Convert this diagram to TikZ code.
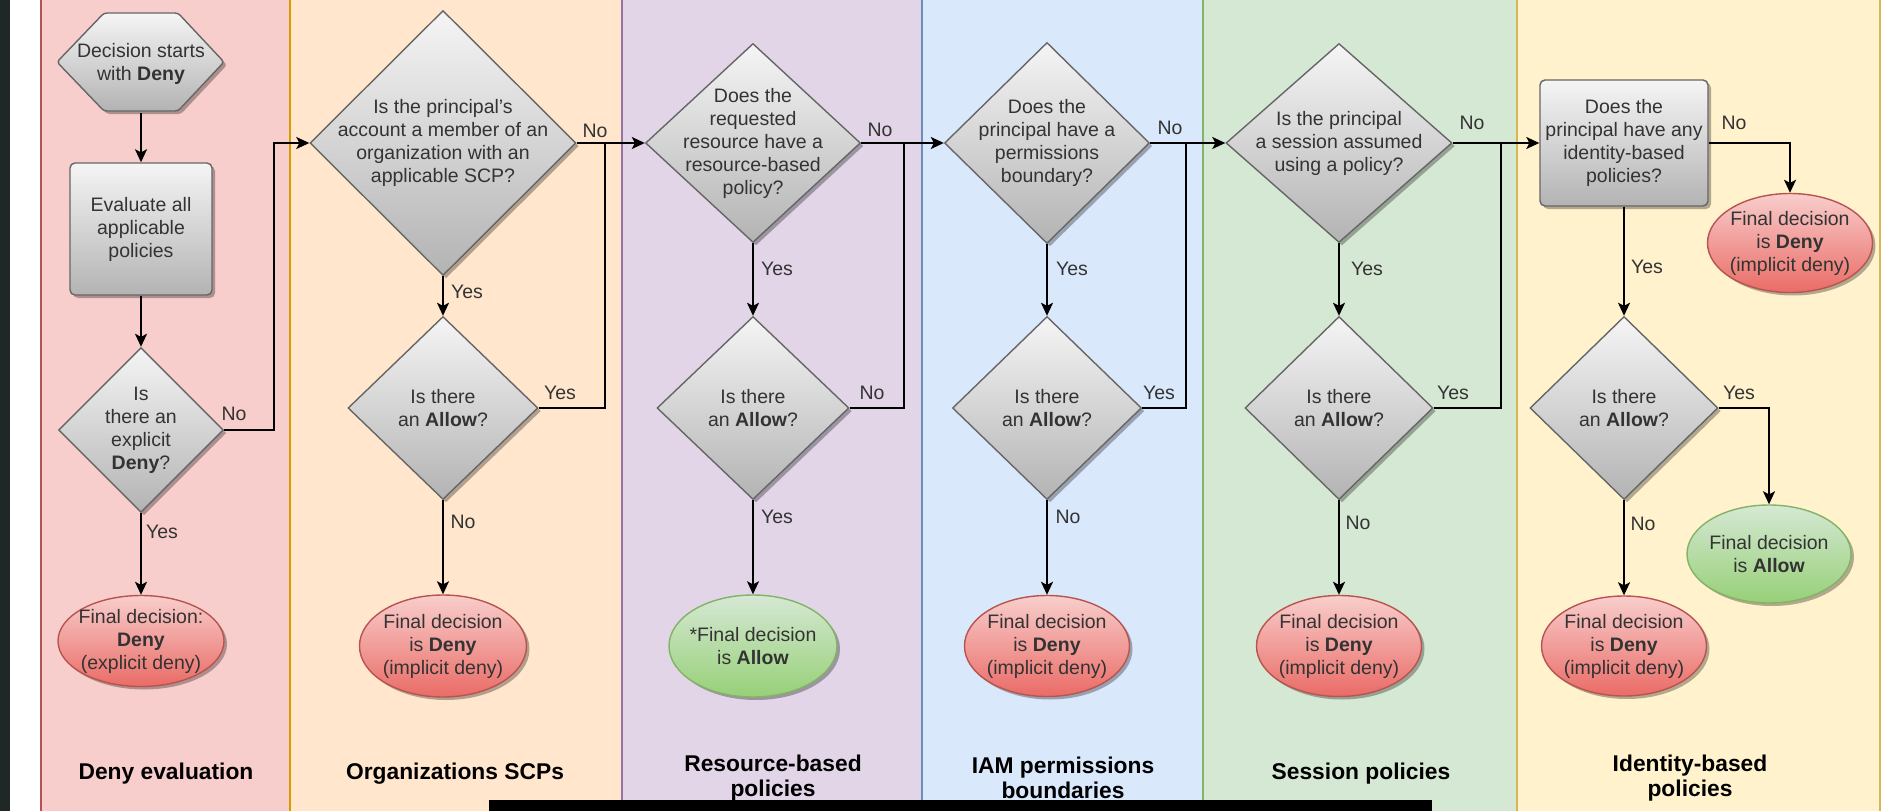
\documentclass[tikz,border=0pt]{standalone}
\usepackage{fontspec}
\setmainfont{Liberation Sans}
\usetikzlibrary{shapes.geometric,shadows,arrows.meta}

% palette
\definecolor{txt}{HTML}{333333}
\definecolor{edgestrip}{HTML}{1F2727}
\definecolor{laneRedF}{HTML}{F8CECC}\definecolor{laneRedD}{HTML}{B85450}
\definecolor{laneOrgF}{HTML}{FFE6CC}\definecolor{laneOrgD}{HTML}{D79B00}
\definecolor{lanePurF}{HTML}{E1D5E7}\definecolor{lanePurD}{HTML}{9673A6}
\definecolor{laneBluF}{HTML}{DAE8FC}\definecolor{laneBluD}{HTML}{6C8EBF}
\definecolor{laneGrnF}{HTML}{D5E8D4}\definecolor{laneGrnD}{HTML}{82B366}
\definecolor{laneYelF}{HTML}{FFF2CC}\definecolor{laneYelD}{HTML}{D6B656}
\definecolor{greyT}{HTML}{F5F5F5}\definecolor{greyB}{HTML}{B3B3B3}\definecolor{greyD}{HTML}{666666}
\definecolor{redT}{HTML}{F8CECC}\definecolor{redB}{HTML}{EA6B66}\definecolor{redD}{HTML}{B85450}
\definecolor{grnT}{HTML}{D5E8D4}\definecolor{grnB}{HTML}{97D077}\definecolor{grnD}{HTML}{82B366}

\newcommand{\dgmBody}{\fontsize{19.5}{23}\selectfont}
\newcommand{\dgmTitle}{\fontsize{22.8}{25}\selectfont\bfseries}

\tikzset{
  shapebase/.style={line width=1.4pt,
    drop shadow={shadow xshift=3pt, shadow yshift=-3pt, opacity=0.3, fill=black}},
  flowtext/.style={align=center, font=\dgmBody, text=txt},
  greyshape/.style={shapebase, draw=greyD, top color=greyT, bottom color=greyB},
  decision/.style={greyshape, diamond, inner sep=0pt},
  procbox/.style={greyshape, rectangle, rounded corners=5pt, inner sep=0pt, flowtext},
  redend/.style={shapebase, ellipse, draw=redD, top color=redT, bottom color=redB, inner sep=0pt},
  greenend/.style={shapebase, ellipse, draw=grnD, top color=grnT, bottom color=grnB, inner sep=0pt},
  qtext/.style={flowtext, inner sep=0pt},
  arr/.style={draw=black, line width=1.7pt, -{Stealth[length=13pt,width=12pt,inset=3pt]}},
  link/.style={draw=black, line width=1.7pt},
  lbl/.style={font=\dgmBody, text=txt, inner sep=0pt},
  lanetitle/.style={font=\dgmTitle, text=black, align=center, inner sep=0pt},
  lane/.style={line width=2pt},
}

\begin{document}
\begin{tikzpicture}[x=1pt,y=-1pt]
\useasboundingbox (0,0) rectangle (1896,811);
\clip (0,0) rectangle (1896,811);
\fill[white] (0,0) rectangle (1896,811);
\fill[edgestrip] (0,0) rectangle (10,811);

% swimlanes
\path[lane, fill=laneRedF, draw=laneRedD] (41,-10) rectangle (290,821);
\path[lane, fill=laneOrgF, draw=laneOrgD] (290,-10) rectangle (622,821);
\path[lane, fill=lanePurF, draw=lanePurD] (622,-10) rectangle (922,821);
\path[lane, fill=laneBluF, draw=laneBluD] (922,-10) rectangle (1203,821);
\path[lane, fill=laneGrnF, draw=laneGrnD] (1203,-10) rectangle (1517,821);
\path[lane, fill=laneYelF, draw=laneYelD] (1517,-10) rectangle (1880,821);

% deny evaluation: hexagonal start shape with its text node on top
\path[greyshape, rounded corners=3pt]
  (57,62) -- (104,13) -- (178,13) -- (224,62) -- (178,111) -- (104,111) -- cycle;
\node[flowtext, minimum width=167pt, minimum height=98pt, inner sep=0pt]
      (start) at (141,64) {Decision starts\\with \textbf{Deny}};
\node[procbox, minimum width=142pt, minimum height=132pt] (eval) at (141,229)
      {Evaluate all\\applicable\\policies};
\node[decision, minimum width=165pt, minimum height=165pt,
      label={[qtext]center:{Is\\there an\\explicit\\\textbf{Deny}?}}] (d0) at (141,430) {};
\node[redend, minimum width=166pt, minimum height=91pt,
      label={[qtext]center:{Final decision:\\\textbf{Deny}\\(explicit deny)}}] (e0) at (141,641) {};

% organizations SCPs
\node[decision, minimum width=266pt, minimum height=265pt,
      label={[qtext]center:{Is the principal's\\account a member of an\\organization with an\\applicable SCP?}}]
      (q1) at (443,143) {};
\node[decision, minimum width=190pt, minimum height=183pt,
      label={[qtext]center:{Is there\\an \textbf{Allow}?}}] (a1) at (443,408) {};
\node[redend, minimum width=167pt, minimum height=102pt,
      label={[qtext]center:{Final decision\\is \textbf{Deny}\\(implicit deny)}}] (e1) at (443,646) {};

% resource-based policies
\node[decision, minimum width=215pt, minimum height=199pt,
      label={[qtext]center:{Does the\\requested\\resource have a\\resource-based\\policy?}}]
      (q2) at (753,143) {};
\node[decision, minimum width=192pt, minimum height=183pt,
      label={[qtext]center:{Is there\\an \textbf{Allow}?}}] (a2) at (753,408) {};
\node[greenend, minimum width=168pt, minimum height=102pt,
      label={[qtext]center:{*Final decision\\is \textbf{Allow}}}] (g2) at (753,646) {};

% IAM permissions boundaries
\node[decision, minimum width=205pt, minimum height=201pt,
      label={[qtext]center:{Does the\\principal have a\\permissions\\boundary?}}]
      (q3) at (1047,143) {};
\node[decision, minimum width=189pt, minimum height=183pt,
      label={[qtext]center:{Is there\\an \textbf{Allow}?}}] (a3) at (1047,408) {};
\node[redend, minimum width=165pt, minimum height=101pt,
      label={[qtext]center:{Final decision\\is \textbf{Deny}\\(implicit deny)}}] (e3) at (1047,646) {};

% session policies
\node[decision, minimum width=226pt, minimum height=199pt,
      label={[qtext]center:{Is the principal\\a session assumed\\using a policy?}}]
      (q4) at (1339,143) {};
\node[decision, minimum width=188pt, minimum height=183pt,
      label={[qtext]center:{Is there\\an \textbf{Allow}?}}] (a4) at (1339,408) {};
\node[redend, minimum width=165pt, minimum height=101pt,
      label={[qtext]center:{Final decision\\is \textbf{Deny}\\(implicit deny)}}] (e4) at (1339,646) {};

% identity-based policies
\node[procbox, minimum width=168pt, minimum height=126pt] (q5) at (1624,143)
      {Does the\\principal have any\\identity-based\\policies?};
\node[redend, minimum width=165pt, minimum height=99pt,
      label={[qtext]center:{Final decision\\is \textbf{Deny}\\(implicit deny)}}] (e5a) at (1790,243) {};
\node[decision, minimum width=188pt, minimum height=183pt,
      label={[qtext]center:{Is there\\an \textbf{Allow}?}}] (a5) at (1624,408) {};
\node[greenend, minimum width=164pt, minimum height=98pt,
      label={[qtext]center:{Final decision\\is \textbf{Allow}}}] (g5) at (1769,554) {};
\node[redend, minimum width=165pt, minimum height=100pt,
      label={[qtext]center:{Final decision\\is \textbf{Deny}\\(implicit deny)}}] (e5b) at (1624,646) {};

% junctions where the "allow" branches rejoin the main flow
\coordinate (j1) at (605,143);
\coordinate (j2) at (904,143);
\coordinate (j3) at (1186,143);
\coordinate (j4) at (1501,143);

% connectors
\draw[arr] (start.south) -- (eval);
\draw[arr] (eval) -- (d0);
\draw[arr] (d0.east) -- ++(50,0) |- (q1.west);
\draw[arr] (d0) -- (e0);

\draw[arr] (q1) -- (q2);
\draw[arr] (q1) -- (a1);
\draw[arr] (a1) -- (e1);
\draw[link] (a1.east) -| (j1);

\draw[arr] (q2) -- (q3);
\draw[arr] (q2) -- (a2);
\draw[arr] (a2) -- (g2);
\draw[link] (a2.east) -| (j2);

\draw[arr] (q3) -- (q4);
\draw[arr] (q3) -- (a3);
\draw[arr] (a3) -- (e3);
\draw[link] (a3.east) -| (j3);

\draw[arr] (q4) -- (q5);
\draw[arr] (q4) -- (a4);
\draw[arr] (a4) -- (e4);
\draw[link] (a4.east) -| (j4);

\draw[arr] (q5.east) -| (e5a.north);
\draw[arr] (q5) -- (a5);
\draw[arr] (a5.east) -| (g5.north);
\draw[arr] (a5) -- (e5b);

% branch labels
\node[lbl] (l01) at (234,414) {No};
\node[lbl] (l02) at (162,532) {Yes};
\node[lbl] (l11) at (595,131) {No};
\node[lbl] (l12) at (467,292) {Yes};
\node[lbl] (l13) at (560,393) {Yes};
\node[lbl] (l14) at (463,522) {No};
\node[lbl] (l21) at (880,130) {No};
\node[lbl] (l22) at (777,269) {Yes};
\node[lbl] (l23) at (872,393) {No};
\node[lbl] (l24) at (777,517) {Yes};
\node[lbl] (l31) at (1170,128) {No};
\node[lbl] (l32) at (1072,269) {Yes};
\node[lbl] (l33) at (1159,393) {Yes};
\node[lbl] (l34) at (1068,517) {No};
\node[lbl] (l41) at (1472,123) {No};
\node[lbl] (l42) at (1367,269) {Yes};
\node[lbl] (l43) at (1453,393) {Yes};
\node[lbl] (l44) at (1358,523) {No};
\node[lbl] (l51) at (1734,123) {No};
\node[lbl] (l52) at (1647,267) {Yes};
\node[lbl] (l53) at (1739,393) {Yes};
\node[lbl] (l54) at (1643,524) {No};

% lane titles
\node[lanetitle, anchor=base] (h1) at (166,779) {Deny evaluation};
\node[lanetitle, anchor=base] (h2) at (455,779) {Organizations SCPs};
\node[lanetitle] (h3) at (773,778) {Resource-based\\policies};
\node[lanetitle] (h4) at (1063,778) {IAM permissions\\boundaries};
\node[lanetitle, anchor=base] (h5) at (1361,779) {Session policies};
\node[lanetitle] (h6) at (1690,778) {Identity-based\\policies};

% bar along the lower edge
\fill[black] (489,800) rectangle (1432,811);
\end{tikzpicture}
\end{document}
